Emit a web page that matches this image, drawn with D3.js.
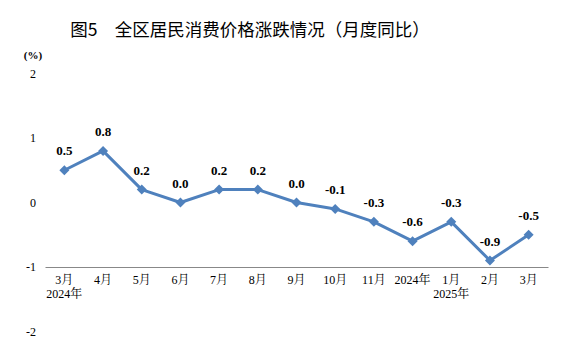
<!DOCTYPE html>
<html><head><meta charset="utf-8">
<script src="https://cdn.jsdelivr.net/npm/d3@7"></script>
<style>body{margin:0;background:#fff}</style>
</head><body>
<svg id="c" width="568" height="342"></svg>
<script>
const categories = ["3月","4月","5月","6月","7月","8月","9月","10月","11月","2024年","1月","2月","3月"];
const yearLabels = ["2024年","","","","","","","","","","2025年","",""];
const values = [0.5,0.8,0.2,0.0,0.2,0.2,0.0,-0.1,-0.3,-0.6,-0.3,-0.9,-0.5];
const yTicks = [2,1,0,-1,-2];
const title = "图5　全区居民消费价格涨跌情况（月度同比）";
const unit = "(%)";

const svg = d3.select("#c");
const serif = "'Liberation Serif','Times New Roman','Noto Serif CJK SC','Noto Sans CJK SC',serif";
const hy = s => s.replace("\u2212","-");
const x = d3.scaleBand().domain(d3.range(categories.length)).range([45,548]);
const y = d3.scaleLinear().domain([-2,2]).range([331.5,73.5]);

svg.append("text").attr("x",250).attr("y",36).attr("text-anchor","middle")
  .attr("font-family","'Noto Sans CJK SC',sans-serif").attr("font-size",17.5).attr("font-weight",400)
  .attr("fill","#000").text(title);

svg.append("text").attr("x",33).attr("y",59).attr("text-anchor","middle")
  .attr("font-family",serif).attr("font-size",11).attr("font-weight","bold").text(unit);

const yAxis = d3.axisLeft(y).tickValues(yTicks).tickSize(0).tickPadding(0).tickFormat(d=>hy(d3.format("d")(d)));
const ga = svg.append("g").attr("transform","translate(36,0)").call(yAxis);
ga.select(".domain").remove();
ga.selectAll("text").attr("font-family",serif).attr("font-size",12).attr("fill","#000");

// x axis line at -1
const xAxis = d3.axisBottom(x).tickSize(0).tickPadding(8).tickFormat(i=>categories[i]);
const gx = svg.append("g").attr("transform",`translate(0,${y(-1)})`).call(xAxis);
gx.select(".domain").attr("stroke","#888").attr("stroke-width",1.2);
gx.selectAll("text").attr("font-family",serif).attr("font-size",12).attr("fill","#000");

svg.append("g").selectAll("text").data(yearLabels).join("text")
  .attr("x",(d,i)=>x(i)+x.bandwidth()/2).attr("y",y(-1)+31)
  .attr("text-anchor","middle").attr("font-family",serif).attr("font-size",12).attr("fill","#000")
  .text(d=>d);

const line = d3.line().x((d,i)=>x(i)+x.bandwidth()/2).y(d=>y(d));
const color = "#4f81bd";
svg.append("path").datum(values).attr("d",line).attr("fill","none")
  .attr("stroke",color).attr("stroke-width",3).attr("stroke-linejoin","round");

svg.append("g").selectAll("path").data(values).join("path")
  .attr("d",d3.symbol(d3.symbolSquare,50)())
  .attr("transform",(d,i)=>`translate(${x(i)+x.bandwidth()/2},${y(d)}) rotate(45)`)
  .attr("fill",color);

svg.append("g").selectAll("text").data(values).join("text")
  .attr("x",(d,i)=>x(i)+x.bandwidth()/2).attr("y",d=>y(d)-15)
  .attr("text-anchor","middle").attr("font-family",serif).attr("font-size",13).attr("font-weight","bold")
  .attr("fill","#000").text(d=>hy(d3.format(".1f")(d)));
</script>
</body></html>
